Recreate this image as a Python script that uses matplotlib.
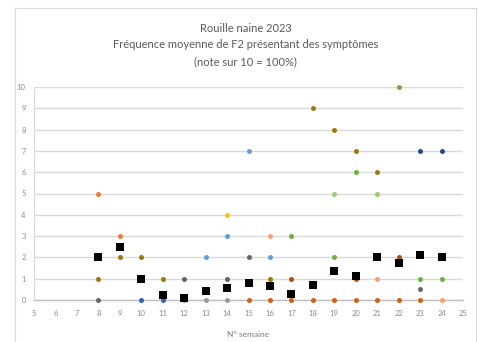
import matplotlib
matplotlib.use("Agg")
import matplotlib.pyplot as plt
from matplotlib.lines import Line2D

plt.rcParams['font.family'] = ['Lato', 'DejaVu Sans']

# Series: (weeks, values, color)
orange_w = [8, 9];                    orange_v = [5, 3]
olive_w = [8, 9, 10, 11, 16, 18, 19, 20, 21]; olive_v = [1, 2, 2, 1, 1, 9, 8, 7, 6]
dgray_w = [8, 12, 14, 15, 23];        dgray_v = [0, 1, 1, 2, 0.5]
blue_w = [10, 11];                    blue_v = [0, 0]
gray_w = [12, 13, 14];                gray_v = [0, 0, 0]
lblue_w = [13, 14, 15, 16];           lblue_v = [2, 3, 7, 2]
yellow_w = [14];                      yellow_v = [4]
dorange_w = [15, 16, 17, 18, 19, 20, 21, 22, 23]; dorange_v = [0, 0, 0, 0, 0, 0, 0, 0, 0]
brown_w = [17, 20, 22];               brown_v = [1, 1, 2]
lorange_w = [16, 21, 24];             lorange_v = [3, 1, 0]
green_w = [17, 19, 20, 22, 23, 24];   green_v = [3, 2, 6, 10, 1, 1]
lgreen_w = [19, 21];                  lgreen_v = [5, 5]
navy_w = [23, 24];                    navy_v = [7, 7]
mean_w = [8, 9, 10, 11, 12, 13, 14, 15, 16, 17, 18, 19, 20, 21, 22, 23, 24]
mean_v = [2, 2.5, 1, 0.25, 0.1, 0.4, 0.55, 0.8, 0.65, 0.3, 0.7, 1.35, 1.15, 2, 1.75, 2.1, 2]

x_ticks = list(range(5, 26))
y_ticks = list(range(0, 11))

series = [
    (orange_w, orange_v, '#F07B3A'),
    (olive_w, olive_v, '#9C7A0C'),
    (dgray_w, dgray_v, '#666666'),
    (blue_w, blue_v, '#2F62B8'),
    (gray_w, gray_v, '#9A9A9A'),
    (lblue_w, lblue_v, '#62A0DA'),
    (yellow_w, yellow_v, '#FFC000'),
    (dorange_w, dorange_v, '#D2600F'),
    (brown_w, brown_v, '#B04E10'),
    (lorange_w, lorange_v, '#F4A06C'),
    (green_w, green_v, '#6DB043'),
    (lgreen_w, lgreen_v, '#98CC6C'),
    (navy_w, navy_v, '#264A8A'),
]

W, H = 483, 342
fig = plt.figure(figsize=(W / 100, H / 100), dpi=100)

# chart border
bc = '#D9D9D9'
x0, x1, y1 = 15 / W, 476 / W, 1 - 8 / H
fig.add_artist(Line2D([x0, x0], [0, y1], color=bc, lw=0.8, transform=fig.transFigure))
fig.add_artist(Line2D([x0, x1], [y1, y1], color=bc, lw=0.8, transform=fig.transFigure))
fig.add_artist(Line2D([x1, x1], [0, y1], color=bc, lw=0.8, transform=fig.transFigure))

ax = fig.add_axes([34 / W, 1 - 300 / H, (463 - 34) / W, (300 - 87) / H])

for w, v, c in series:
    ax.plot(w, v, linestyle='none', marker='o', markersize=3.6, color=c,
            markeredgewidth=0, zorder=3, clip_on=False)
ax.plot(mean_w, mean_v, linestyle='none', marker='s', markersize=6.0, color='black',
        markeredgewidth=0, zorder=4, clip_on=False)

ax.set_xlim(5, 25)
ax.set_ylim(0, 10)
ax.set_xticks(x_ticks)
ax.set_yticks(y_ticks)
ax.grid(axis='y', color='#D9D9D9', lw=1.0, zorder=0)
ax.set_axisbelow(True)
for s in ['top', 'right']:
    ax.spines[s].set_visible(False)
ax.spines['left'].set_color('#D9D9D9')
ax.spines['bottom'].set_color('#BFBFBF')
ax.spines['left'].set_linewidth(0.8)
ax.spines['bottom'].set_linewidth(1.0)
ax.tick_params(axis='both', length=0, labelsize=5.5, labelcolor='#8C8C8C')
ax.tick_params(axis='x', pad=7)
ax.tick_params(axis='y', pad=6)
ax.set_xlabel('N° semaine', fontsize=6, color='#7F7F7F', labelpad=10)

title = "Rouille naine 2023\nFréquence moyenne de F2 présentant des symptômes\n(note sur 10 = 100%)"
fig.text(0.5 * (15 + 476) / W, 1 - 45 / H, title, ha='center', va='center',
         fontsize=8.0, color='#595959', linespacing=1.65)

fig.savefig('out.png', dpi=100)
